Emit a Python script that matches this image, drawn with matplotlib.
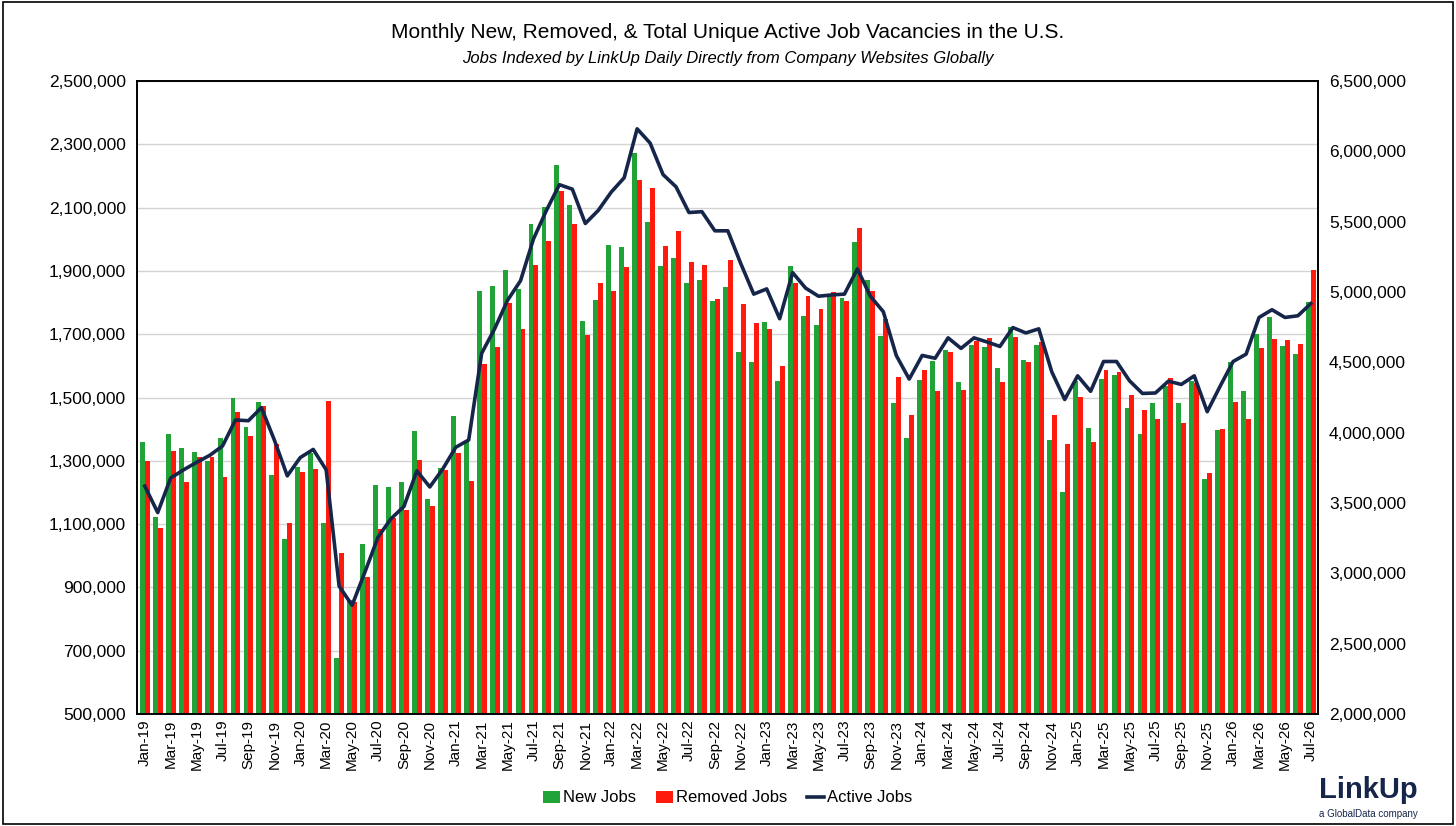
import matplotlib
matplotlib.use("Agg")
import matplotlib.pyplot as plt
import numpy as np
import pandas as pd
from matplotlib.ticker import FuncFormatter, FixedLocator

months = pd.date_range("2019-01-01", "2026-07-01", freq="MS").strftime("%b-%y").tolist()

new_jobs = [1358,1122,1384,1339,1329,1300,1373,1498,1407,1487,1254,1052,
            1281,1326,1104,676,860,1036,1222,1216,1234,1393,1180,1278,
            1442,1362,1837,1852,1904,1844,2048,2101,2235,2108,1743,1807,
            1983,1976,2272,2055,1917,1941,1861,1872,1804,1849,1644,1613,
            1737,1551,1916,1756,1730,1827,1813,1990,1870,1693,1484,1373,
            1556,1614,1649,1550,1665,1660,1594,1724,1619,1666,1367,1203,
            1551,1405,1557,1570,1466,1386,1484,1536,1482,1553,1243,1398,
            1613,1520,1700,1755,1663,1638,1801]
removed_jobs = [1300,1088,1331,1233,1313,1313,1250,1453,1379,1474,1352,1104,
                1266,1275,1490,1010,855,934,1083,1119,1143,1303,1158,1270,
                1326,1236,1605,1659,1800,1716,1920,1996,2152,2047,1698,1862,
                1837,1912,2188,2162,1979,2027,1928,1919,1812,1935,1795,1736,
                1716,1600,1862,1822,1781,1832,1806,2034,1835,1747,1564,1445,
                1588,1522,1643,1525,1678,1688,1550,1690,1611,1674,1445,1353,
                1503,1359,1588,1582,1508,1459,1432,1563,1421,1546,1263,1402,
                1485,1432,1655,1686,1682,1669,1904]
active_jobs = [3620,3432,3678,3736,3789,3838,3905,4090,4085,4178,3948,3693,
               3823,3881,3736,2909,2773,3011,3257,3388,3475,3728,3614,3742,
               3896,3948,4564,4738,4941,5080,5377,5580,5763,5731,5487,5580,
               5710,5812,6160,6059,5835,5748,5565,5571,5435,5435,5202,4985,
               5022,4810,5138,5028,4970,4979,4985,5164,4970,4860,4549,4381,
               4549,4529,4674,4599,4674,4645,4613,4747,4709,4738,4433,4236,
               4404,4294,4506,4506,4369,4279,4282,4366,4343,4404,4149,4331,
               4506,4558,4819,4874,4819,4831,4918]

new_v = np.array(new_jobs) * 1000
rem_v = np.array(removed_jobs) * 1000
act_v = np.array(active_jobs) * 1000

plt.rcParams['font.family'] = ['Liberation Sans', 'DejaVu Sans']
fig = plt.figure(figsize=(14.56, 8.26), dpi=100)
W, H = 1456, 826
ax = fig.add_axes([137/W, 1-714/H, (1318-137)/W, (714-81)/H])
ax2 = ax.twinx()

x = np.arange(len(months))
bw = 0.38
ax.bar(x - bw/2, new_v, width=bw, color="#21a337", label="New Jobs", zorder=2)
ax.bar(x + bw/2, rem_v, width=bw, color="#ff1a0e", label="Removed Jobs", zorder=2)
ax2.plot(x, act_v, color="#16264a", lw=2.6, label="Active Jobs", zorder=3)

ax.set_ylim(500000, 2500000)
ax.set_yticks(np.arange(500000, 2500001, 200000))
ax2.set_ylim(2000000, 6500000)
ax2.set_yticks(np.arange(2000000, 6500001, 500000))
fmt = FuncFormatter(lambda v, p: f"{int(v):,}")
ax.yaxis.set_major_formatter(fmt)
ax2.yaxis.set_major_formatter(fmt)
ax.grid(axis='y', color="#d4d4d4", lw=1, zorder=0)
ax.set_axisbelow(True)
ax.set_xlim(-0.6, len(months) - 0.45)
ax.set_xticks(x[::2])
ax.set_xticklabels(months[::2], rotation=90, fontsize=11)
ax.tick_params(axis='x', length=0, pad=4)
ax.tick_params(axis='y', length=0, labelsize=12.5, pad=8)
ax2.tick_params(axis='y', length=0, labelsize=12.5, pad=8)
for a in (ax, ax2):
    for s in a.spines.values():
        s.set_color("black"); s.set_linewidth(1.2)

fig.text(0.5, 1-33/H, "Monthly New, Removed, & Total Unique Active Job Vacancies in the U.S.",
         ha="center", va="center", fontsize=15)
fig.text(0.5, 1-58/H, "Jobs Indexed by LinkUp Daily Directly from Company Websites Globally",
         ha="center", va="center", fontsize=12, style="italic")

h1, l1 = ax.get_legend_handles_labels()
h2, l2 = ax2.get_legend_handles_labels()
fig.legend(h1 + h2, l1 + l2, loc="center", bbox_to_anchor=(0.5, 1-798/H), ncol=3,
           frameon=False, fontsize=12, handlelength=1.0, handletextpad=0.2, columnspacing=1.2)

fig.text(1-38/W, 1-790/H, "LinkUp", ha="right", va="center", fontsize=21,
         fontweight="bold", color="#16264a")
fig.text(1-38/W, 1-814/H, "a GlobalData company", ha="right", va="center", fontsize=7, color="#16264a")

border = plt.Rectangle((0.002, 0.002), 0.996, 0.996, transform=fig.transFigure,
                       fill=False, edgecolor="black", lw=1.2)
fig.patches.append(border)

fig.savefig("out.png", dpi=100)
